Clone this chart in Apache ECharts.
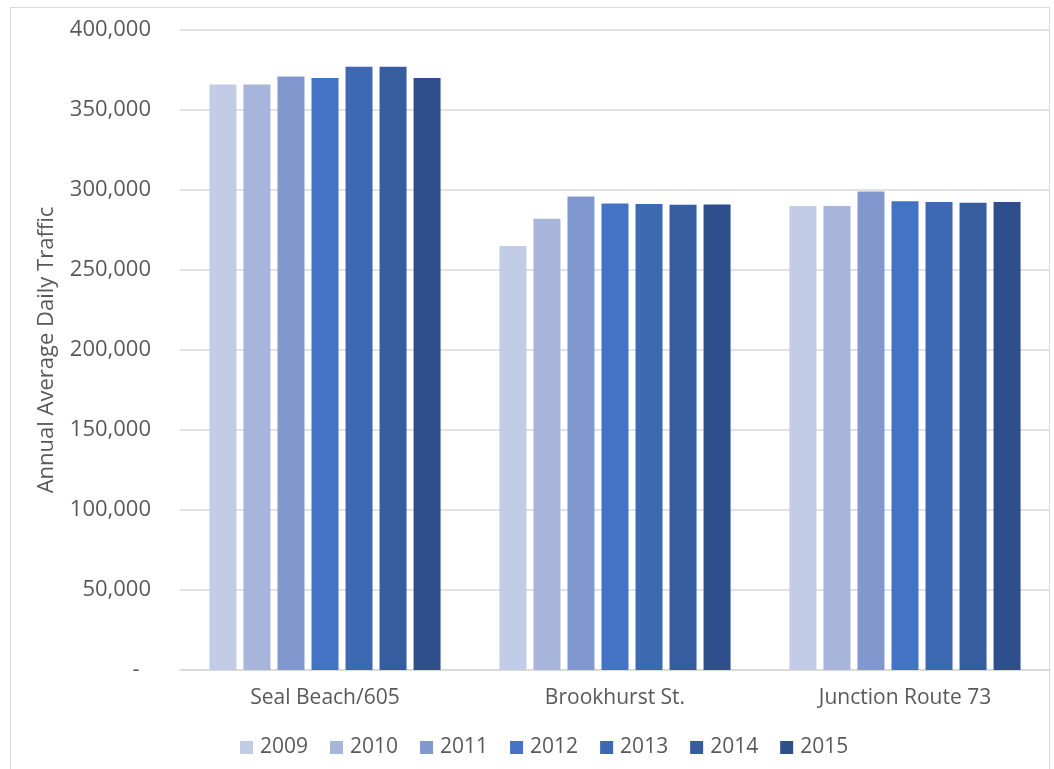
<!DOCTYPE html>
<html>
<head>
<meta charset="utf-8">
<script src="https://cdn.jsdelivr.net/npm/echarts@6/dist/echarts.min.js"></script>
<style>
html,body{margin:0;padding:0;background:#fff;}
#frame{position:absolute;left:10px;top:7px;width:1040px;height:770px;border:1px solid #d9d9d9;box-sizing:border-box;}
#chart{position:absolute;left:0;top:0;width:1054px;height:769px;}
</style>
</head>
<body>
<div id="frame"></div>
<div id="chart"></div>
<script>
const categories = ['Seal Beach/605', 'Brookhurst St.', 'Junction Route 73'];
const years = ['2009', '2010', '2011', '2012', '2013', '2014', '2015'];
const values2009 = [366000, 265000, 290000];
const values2010 = [366000, 282000, 290000];
const values2011 = [371000, 296000, 299000];
const values2012 = [370000, 291500, 293000];
const values2013 = [377000, 291300, 292500];
const values2014 = [377000, 290800, 292000];
const values2015 = [370000, 291000, 292500];
const seriesValues = [values2009, values2010, values2011, values2012, values2013, values2014, values2015];
const colors = ['#C2CCE6', '#A7B5DB', '#8198CF', '#4472C4', '#3C69B2', '#355D9F', '#2E4F8B'];

const FONT = '"Open Sans", "Noto Sans", sans-serif';
const chart = echarts.init(document.getElementById('chart'), null, {renderer: 'canvas'});
chart.setOption({
  animation: false,
  backgroundColor: 'transparent',
  color: colors,
  textStyle: {fontFamily: FONT},
  grid: {left: 180, right: 4, top: 30, bottom: 99, containLabel: false},
  legend: {
    data: years,
    top: 732,
    left: 235,
    icon: 'rect',
    itemWidth: 13,
    itemHeight: 13,
    itemGap: 22,
    textStyle: {fontFamily: FONT, fontSize: 21, color: '#595959', padding: [0, 0, 0, 2]}
  },
  xAxis: {
    type: 'category',
    data: categories,
    axisLine: {lineStyle: {color: '#d9d9d9', width: 1.5}},
    axisTick: {show: false},
    axisLabel: {fontFamily: FONT, fontSize: 21, color: '#595959', margin: 18}
  },
  yAxis: {
    type: 'value',
    min: 0,
    max: 400000,
    interval: 50000,
    name: 'Annual Average Daily Traffic',
    nameLocation: 'middle',
    nameGap: 122,
    nameTextStyle: {fontFamily: FONT, fontSize: 22, color: '#595959'},
    axisLine: {show: false},
    axisTick: {show: false},
    splitLine: {lineStyle: {color: '#d9d9d9', width: 1.5}},
    axisLabel: {
      fontFamily: FONT, fontSize: 22, color: '#595959', margin: 29,
      formatter: function (v) { return v === 0 ? '-  ' : v.toLocaleString('en-US'); }
    }
  },
  series: years.map(function (y, i) {
    return {
      name: y,
      type: 'bar',
      data: seriesValues[i],
      barWidth: 27,
      barGap: '26%',
      itemStyle: {color: colors[i]}
    };
  })
});
</script>
</body>
</html>
